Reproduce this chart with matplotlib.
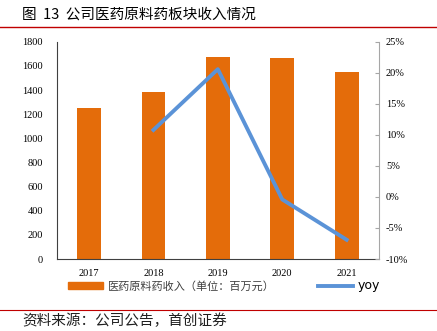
import numpy as np
import matplotlib.pyplot as plt
from matplotlib.lines import Line2D
from matplotlib.patches import Patch

plt.rcParams['font.family'] = ['Noto Sans CJK SC', 'DejaVu Sans']

years = ['2017', '2018', '2019', '2020', '2021']
revenue = [1250, 1385, 1675, 1668, 1552]
yoy = [None, 10.8, 20.6, -0.4, -6.9]

fig = plt.figure(figsize=(4.37, 3.31), dpi=100)
ax = fig.add_axes([0.130, 0.2175, 0.737, 0.656])
ax2 = ax.twinx()

x = np.arange(len(years))
ax.bar(x, revenue, width=0.37, color='#E46C0A', zorder=2)
ax.set_xlim(-0.5, 4.5)
ax.set_ylim(0, 1800)
ax.set_yticks(range(0, 1801, 200))
ax.set_xticks(x)
ax.set_xticklabels(years)

yx = [i for i, v in enumerate(yoy) if v is not None]
yv = [v for v in yoy if v is not None]
ax2.plot(yx, yv, color='#5B93D7', lw=2.8, zorder=3)
ax2.set_ylim(-10, 25)
ax2.set_yticks(range(-10, 26, 5))
ax2.set_yticklabels([f'{t}%' for t in range(-10, 26, 5)])

serif = 'Liberation Serif'
for lab in ax.get_xticklabels() + ax.get_yticklabels() + ax2.get_yticklabels():
    lab.set_family(serif)
    lab.set_fontsize(7.5)

for s in ['top', 'right']:
    ax.spines[s].set_visible(False)
ax.spines['left'].set_color('#404040')
ax.spines['bottom'].set_color('#404040')
ax.tick_params(axis='y', length=0, pad=10)
ax.tick_params(axis='x', length=0, pad=7)
for s in ['top', 'left', 'bottom']:
    ax2.spines[s].set_visible(False)
ax2.spines['right'].set_color('#A6A6A6')
ax2.tick_params(axis='y', direction='in', length=3, color='#A6A6A6', pad=5)

handles = [Patch(color='#E46C0A'), Line2D([], [], color='#5B93D7', lw=2.8)]
leg = fig.legend(handles, ['医药原料药收入（单位：百万元）', 'yoy'], loc='center left',
                 bbox_to_anchor=(0.155, 0.136), ncol=2, frameon=False, fontsize=8,
                 handlelength=3.2, handleheight=0.5, columnspacing=3.9, handletextpad=0.4,
                 borderpad=0, borderaxespad=0)
leg.get_texts()[0].set_color('#404040')
leg.get_texts()[1].set_family('DejaVu Sans')
leg.get_texts()[1].set_fontsize(9)

fig.text(0.05, 0.955, '图  13  公司医药原料药板块收入情况', fontsize=10.5, va='center')
fig.add_artist(Line2D([0.0, 1.0], [0.918, 0.918], color='#C00000', lw=1.0))
fig.add_artist(Line2D([0.0, 1.0], [0.064, 0.064], color='#C00000', lw=0.8))
fig.text(0.05, 0.03, '资料来源：公司公告，首创证券', fontsize=10.5, va='center',
         style='italic', color='#202020')

fig.savefig('out.png', dpi=100)
